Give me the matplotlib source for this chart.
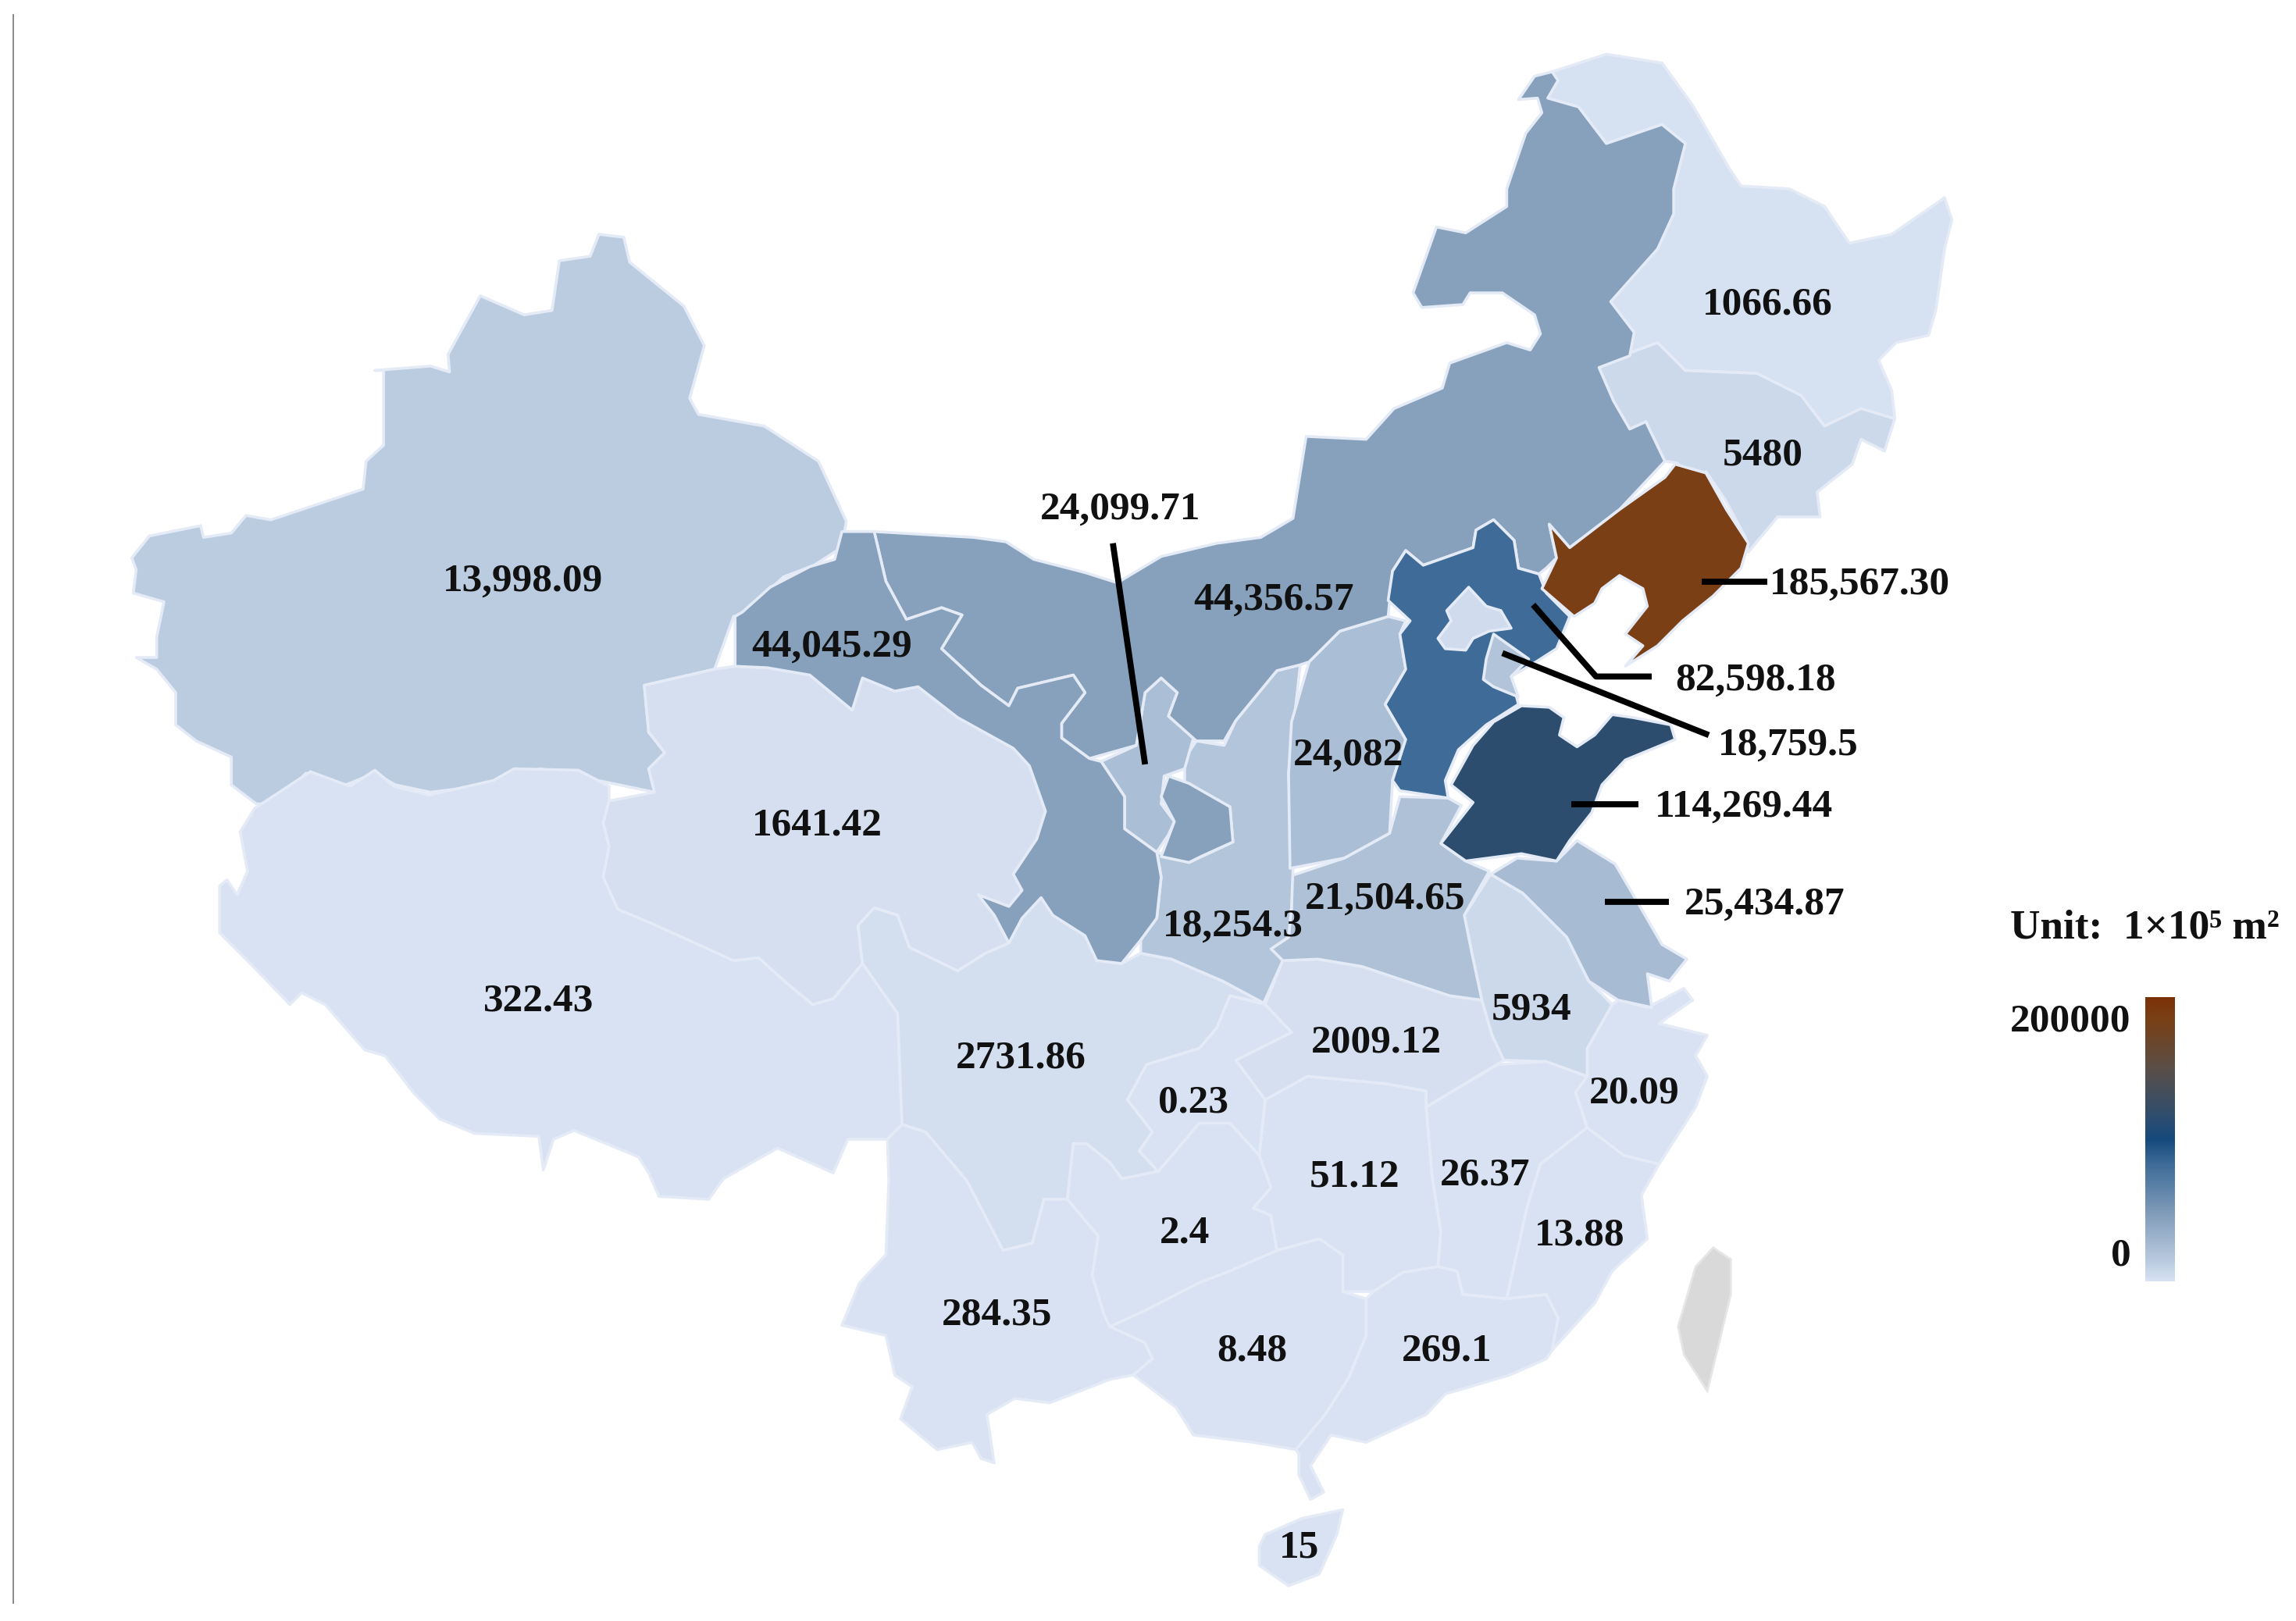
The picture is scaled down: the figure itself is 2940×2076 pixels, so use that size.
import numpy as np
import matplotlib
matplotlib.use('Agg')
import matplotlib.pyplot as plt
from matplotlib.colors import LinearSegmentedColormap, Normalize
from matplotlib.patches import Polygon

plt.rcParams['font.family'] = ['Liberation Serif', 'DejaVu Serif']

# outlines (page units, 1568 wide)
xinjiang = [(90,381),(102,366),(137,359),(139,367),(158,364),(168,352),(185,355),(239,337),(248,334),(250,315),(262,304),(262,253),(256,253),(294,250),(307,254),(306,242),(328,202),(358,215),(377,212),(382,178),(403,175),(409,160),(426,162),(430,179),(467,209),(481,236),(471,272),(477,283),(522,291),(559,315),(578,356),(576,367),(573,375),(556,386),(535,394),(508,419),(501,421),(488,457),(440,468),(443,500),(454,514),(443,525),(447,541),(423,536),(369,525),(335,536),(294,541),(270,536),(256,528),(236,536),(209,528),(188,549),(175,549),(158,536),(158,517),(134,506),(120,495),(120,473),(107,457),(93,449),(107,449),(107,435),(112,411),(91,405),(93,389)]
tibet = [(174,552),(212,527),(239,537),(256,526),(269,537),(293,543),(337,533),(351,525),(395,526),(416,537),(416,547),(412,562),(416,578),(412,599),(422,621),(446,631),(501,656),(518,654),(538,672),(555,686),(569,682),(589,658),(613,692),(616,768),(606,778),(579,778),(569,801),(531,784),(494,805),(484,819),(450,817),(443,801),(436,790),(392,772),(378,778),(371,799),(368,776),(324,774),(300,764),(283,747),(263,721),(249,717),(222,686),(206,678),(198,686),(171,658),(150,637),(150,605),(155,601),(162,611),(169,595),(164,568)]
qinghai = [(502,455),(524,456),(553,461),(582,485),(589,463),(611,472),(627,469),(654,490),(692,511),(703,523),(714,554),(708,573),(692,597),(698,608),(689,619),(668,611),(679,625),(689,644),(673,651),(654,663),(621,647),(613,625),(597,620),(586,632),(589,658),(569,682),(555,686),(538,672),(518,654),(501,656),(446,631),(422,621),(412,599),(416,578),(412,562),(416,547),(447,541),(443,525),(454,514),(443,500),(440,468),(488,457)]
gansu = [(502,421),(507,418),(526,401),(553,387),(570,382),(575,363),(597,363),(605,397),(619,423),(643,415),(657,420),(643,443),(670,468),(689,482),(695,470),(733,461),(741,473),(725,494),(725,504),(744,518),(752,520),(768,544),(768,566),(790,582),(793,599),(790,627),(779,642),(766,658),(749,656),(741,639),(719,625),(711,613),(698,627),(689,644),(679,625),(668,611),(689,619),(698,608),(692,597),(708,573),(714,554),(703,523),(692,511),(654,490),(627,469),(611,472),(589,463),(582,485),(553,461),(524,456),(502,455)]
gansu_east = [(798,530),(812,535),(840,551),(842,575),(820,585),(812,589),(793,585),(802,561),(793,544)]
inner_mongolia = [(597,363),(665,367),(687,370),(706,382),(741,391),(763,398),(793,380),(831,371),(861,367),(883,354),(892,298),(933,300),(952,279),(985,265),(990,248),(1029,234),(1045,239),(1052,228),(1048,215),(1026,200),(1004,200),(999,208),(971,210),(965,200),(981,155),(1001,159),(1029,141),(1029,129),(1042,91),(1053,77),(1050,67),(1037,68),(1048,52),(1060,49),(1064,55),(1057,67),(1078,73),(1097,98),(1135,85),(1151,98),(1143,129),(1143,146),(1132,170),(1100,206),(1116,227),(1113,243),(1092,251),(1102,274),(1113,293),(1124,288),(1137,315),(1106,348),(1072,374),(1058,358),(1063,381),(1056,388),(1051,392),(1037,388),(1034,369),(1020,355),(1008,362),(1006,374),(972,386),(960,376),(951,390),(948,421),(915,431),(894,452),(888,454),(872,458),(844,492),(836,506),(817,506),(798,489),(804,473),(793,463),(782,473),(776,509),(744,518),(725,504),(725,494),(741,473),(733,461),(695,470),(689,482),(670,468),(643,443),(657,420),(643,415),(619,423),(605,397)]
ningxia = [(752,520),(776,509),(782,473),(793,463),(804,473),(798,489),(815,504),(809,525),(795,530),(793,549),(802,561),(798,570),(790,582),(768,566),(768,544)]
shaanxi = [(817,506),(836,509),(844,492),(872,458),(888,454),(883,499),(880,528),(883,594),(882,620),(880,640),(868,648),(876,656),(863,685),(835,670),(800,655),(779,651),(779,642),(790,627),(793,599),(790,582),(812,589),(842,575),(840,551),(809,535),(809,518)]
shanxi = [(948,421),(915,431),(894,452),(882,493),(880,529),(881,593),(918,586),(949,569),(951,533),(960,505),(946,481),(960,457),(956,433),(960,424)]
hebei = [(951,390),(960,376),(972,386),(1006,374),(1008,362),(1020,355),(1034,369),(1037,388),(1051,392),(1056,405),(1072,421),(1063,443),(1049,452),(1032,462),(1037,481),(1015,495),(996,512),(987,533),(989,545),(956,540),(951,533),(960,505),(946,481),(960,457),(956,433),(963,424),(948,410)]
beijing = [(1003,401),(1015,414),(1025,417),(1032,429),(1017,431),(1006,436),(1001,444),(987,443),(982,436),(991,424),(988,417)]
tianjin = [(1020,433),(1027,438),(1044,450),(1032,462),(1037,476),(1020,469),(1013,464),(1015,450)]
shandong = [(1039,482),(1058,483),(1068,490),(1065,502),(1077,510),(1089,502),(1101,488),(1115,490),(1141,495),(1144,505),(1110,519),(1094,536),(1087,555),(1072,574),(1063,588),(1039,583),(1001,588),(984,576),(1006,548),(991,536),(1006,509),(1020,493)]
liaoning = [(1144,317),(1165,323),(1179,348),(1194,371),(1189,388),(1170,407),(1149,424),(1132,441),(1110,455),(1122,441),(1110,433),(1125,414),(1122,402),(1106,393),(1094,402),(1089,412),(1075,421),(1053,402),(1063,381),(1058,358),(1072,374),(1106,348),(1137,326)]
jilin = [(1092,251),(1113,241),(1132,234),(1151,253),(1200,255),(1230,270),(1246,291),(1271,279),(1294,286),(1287,308),(1271,300),(1265,317),(1241,336),(1243,353),(1214,353),(1194,377),(1192,367),(1178,341),(1165,322),(1159,329),(1145,316),(1137,315),(1124,288),(1113,293),(1102,274)]
heilongjiang = [(1060,49),(1097,37),(1135,43),(1156,72),(1181,115),(1189,127),(1222,129),(1246,141),(1263,166),(1292,160),(1328,135),(1333,150),(1328,170),(1322,212),(1317,229),(1295,234),(1283,246),(1292,267),(1294,286),(1271,279),(1246,291),(1230,270),(1200,255),(1151,253),(1132,234),(1113,241),(1116,227),(1100,206),(1132,170),(1143,146),(1143,129),(1151,98),(1135,85),(1097,98),(1078,73),(1057,67),(1064,55)]
henan = [(882,598),(918,586),(949,569),(956,544),(989,545),(998,550),(984,576),(1001,588),(1017,595),(1000,625),(1005,650),(1012,683),(990,680),(966,672),(930,660),(900,655),(876,656),(868,648),(880,640),(882,620)]
jiangsu = [(1036,586),(1063,588),(1077,574),(1103,590),(1120,619),(1135,645),(1152,655),(1140,670),(1125,665),(1128,688),(1105,683),(1085,670),(1070,640),(1055,625),(1040,610),(1018,597)]
anhui = [(1018,597),(1040,610),(1055,625),(1070,640),(1085,670),(1101,686),(1084,716),(1084,735),(1056,725),(1027,724),(1019,707),(1012,683),(1005,650),(1000,625)]
zhejiang = [(1101,686),(1105,683),(1125,688),(1150,675),(1156,683),(1133,699),(1166,707),(1158,721),(1166,735),(1158,756),(1133,795),(1109,789),(1084,770),(1076,746),(1084,735),(1084,716)]
fujian = [(1084,770),(1109,789),(1133,795),(1121,816),(1125,846),(1101,868),(1089,890),(1060,922),(1064,900),(1056,884),(1029,887),(1043,824),(1052,795)]
jiangxi = [(974,756),(1023,727),(1056,725),(1084,735),(1076,746),(1084,770),(1052,795),(1043,824),(1029,887),(999,884),(995,868),(982,865),(984,841),(978,803)]
hubei = [(864,686),(876,656),(900,655),(930,660),(966,672),(990,680),(1012,683),(1019,707),(1027,724),(974,756),(974,745),(946,740),(893,735),(864,751),(860,789),(840,767),(844,724),(882,705)]
chongqing = [(840,680),(831,702),(819,716),(783,727),(770,751),(787,773),(778,786),(791,800),(819,767),(840,767),(860,789),(864,751),(844,724),(882,705),(864,686)]
sichuan = [(616,768),(613,692),(589,658),(586,632),(597,620),(613,625),(621,647),(654,663),(673,651),(689,644),(698,627),(711,613),(719,625),(741,639),(749,656),(766,658),(779,651),(800,655),(835,670),(863,685),(840,680),(831,702),(819,716),(783,727),(770,751),(787,773),(778,786),(791,800),(766,805),(758,794),(742,781),(733,781),(729,819),(713,819),(705,849),(685,854),(660,806),(632,773)]
yunnan = [(606,778),(616,768),(632,773),(660,806),(685,854),(705,849),(713,819),(729,819),(750,844),(746,871),(754,898),(782,917),(787,928),(774,939),(758,942),(717,958),(693,955),(674,966),(679,999),(670,996),(664,985),(640,990),(615,969),(623,947),(611,939),(605,912),(575,905),(587,876),(605,857),(607,806)]
guizhou = [(729,819),(733,781),(742,781),(758,794),(766,805),(791,800),(819,767),(840,767),(860,789),(868,811),(856,825),(868,830),(872,854),(840,868),(819,876),(782,895),(758,906),(754,898),(746,871),(750,844)]
hunan = [(864,751),(893,735),(946,740),(974,745),(974,756),(978,803),(984,841),(982,865),(958,869),(938,882),(917,882),(917,857),(901,846),(872,854),(868,830),(856,825),(868,811),(860,789)]
guangxi = [(758,906),(782,895),(819,876),(840,868),(872,854),(901,846),(917,857),(917,882),(933,887),(933,912),(921,941),(905,966),(885,990),(856,985),(815,980),(803,961),(774,939),(787,928),(782,917)]
guangdong = [(933,887),(938,882),(958,869),(982,865),(995,868),(999,884),(1029,887),(1056,884),(1064,900),(1060,922),(1056,928),(1031,939),(987,952),(974,966),(933,985),(909,980),(895,1001),(904,1019),(895,1024),(887,1007),(887,993),(885,990),(905,966),(921,941),(933,912)]
hainan = [(864,1048),(889,1037),(917,1031),(913,1048),(901,1075),(880,1083),(860,1069),(860,1056)]
taiwan = [(1170,852),(1182,860),(1182,884),(1166,950),(1150,925),(1146,906),(1158,865)]

# label text as printed, fill value behind each region
region_names = ['Xinjiang','Tibet','Qinghai','Sichuan','Yunnan','Guizhou','Hunan','Hubei','Chongqing','Jiangxi','Fujian','Zhejiang','Guangxi','Guangdong','Hainan','Heilongjiang','Jilin','Anhui','Henan','Jiangsu','Shaanxi','Shanxi','Ningxia','InnerMongolia','Gansu','GansuEast','Hebei','Beijing','Tianjin','Shandong','Liaoning']
region_shapes = [xinjiang,tibet,qinghai,sichuan,yunnan,guizhou,hunan,hubei,chongqing,jiangxi,fujian,zhejiang,guangxi,guangdong,hainan,heilongjiang,jilin,anhui,henan,jiangsu,shaanxi,shanxi,ningxia,inner_mongolia,gansu,gansu_east,hebei,beijing,tianjin,shandong,liaoning]
region_values = [13998.09,322.43,1641.42,2731.86,284.35,2.4,51.12,2009.12,0.23,26.37,13.88,20.09,8.48,269.1,15,1066.66,5480,5934,21504.65,25434.87,18254.3,24082,24099.71,44356.57,44045.29,44045.29,82598.18,4000,18759.5,114269.44,185567.30]

plain_labels = ['13,998.09','322.43','1641.42','44,045.29','44,356.57','18,254.3','24,082','21,504.65','5480','1066.66','5934','2009.12','2731.86','0.23','2.4','51.12','26.37','20.09','13.88','284.35','8.48','269.1','15']
plain_x = [357,368,558,568,870,842,921,946,1204,1207,1046,940,697,815,809,925,1014,1116,1079,681,855,988,887]
plain_y = [397,684,564,442,410,633,516,614,311,208,690,712,723,753,842,804,803,747,844,898,923,923,1057]

callout_labels = ['24,099.71','185,567.30','82,598.18','18,759.5','114,269.44','25,434.87']
callout_x = [765,1270,1199,1221,1191,1205]
callout_y = [348,399,465,509,551,618]
leader_x = [[760,782],[1162,1207],[1047,1090,1128],[1026,1167],[1073,1119],[1096,1140]]
leader_y = [[371,522],[397,397],[413,462,462],[446,502],[549,549],[616,616]]

cbar_ticks = [0,200000]

cmap = LinearSegmentedColormap.from_list('map', [(0,'#D8E2F2'),(0.07,'#BACBE0'),(0.12,'#A9BDD4'),(0.22,'#87A1BD'),(0.41,'#3F6C98'),(0.50,'#15497C'),(0.57,'#2C4D70'),(0.75,'#5A4F48'),(0.93,'#7A3F14'),(1,'#7A3206')])
norm = Normalize(0,200000)

fig = plt.figure(figsize=(14.7,10.38),dpi=200)
ax = fig.add_axes([0,0,1,1])
ax.set_xlim(0,1568)
ax.set_ylim(1107,0)
ax.axis('off')

for shape, value in zip(region_shapes, region_values):
    ax.add_patch(Polygon(shape, closed=True, facecolor=cmap(norm(value)), edgecolor='#E4EBF6', linewidth=1.3, joinstyle='round'))
ax.add_patch(Polygon(taiwan, closed=True, facecolor='#D9D9D9', edgecolor='#E6E6E6', linewidth=1))

ax.plot([9,9],[10,1095],color='#8A8A8A',lw=0.7)

for i in range(len(leader_x)):
    ax.plot(leader_x[i],leader_y[i],color='black',lw=2.8,solid_capstyle='butt')

fs = 18.5
for t,x,y in zip(plain_labels,plain_x,plain_y):
    ax.text(x,y,t,fontsize=fs,fontweight='bold',ha='center',va='center',color='#111111')
for t,x,y in zip(callout_labels,callout_x,callout_y):
    ax.text(x,y,t,fontsize=fs,fontweight='bold',ha='center',va='center',color='#111111')

ax.text(1373,634,'Unit:  1×10⁵ m²',fontsize=19.2,fontweight='bold',ha='left',va='center',color='#111111')

# colour bar runs a bit past its two ticks
cax = fig.add_axes([1465/1568,1-875/1107,20/1568,194/1107])
gradient = np.linspace(1,0,256).reshape(-1,1)
cax.imshow(gradient,cmap=cmap,vmin=0,vmax=1,aspect='auto',extent=(0,1,-25000,217500))
cax.set_xticks([])
cax.set_yticks(cbar_ticks)
cax.set_yticklabels(['0','200000'],fontsize=fs,fontweight='bold',color='#111111')
cax.tick_params(axis='y',length=0,pad=6.5)
for s in cax.spines.values():
    s.set_visible(False)

fig.savefig('out.png',dpi=200)
